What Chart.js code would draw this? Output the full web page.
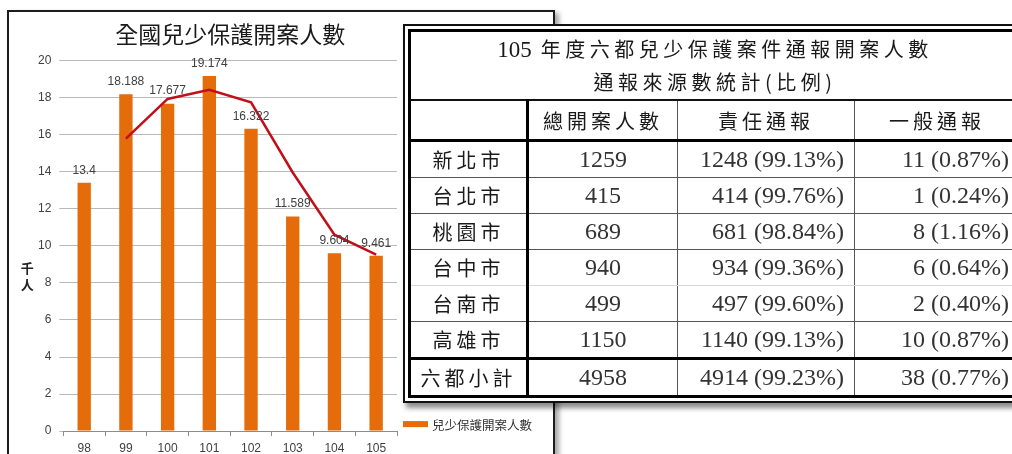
<!DOCTYPE html>
<html lang="zh-Hant">
<head>
<meta charset="utf-8">
<title>全國兒少保護開案人數</title>
<script src="https://cdn.jsdelivr.net/npm/chart.js@4.4.1/dist/chart.umd.min.js"></script>
<style>
  html, body { margin: 0; padding: 0; background: #fff; width: 1012px; height: 454px; overflow: hidden; }
  body { position: relative; }
  #frame { position: absolute; left: 7px; top: 10px; width: 544px; height: 470px; border: 2px solid #1c1c1c; box-shadow: 4px 3px 5px rgba(0,0,0,0.35); background: #fff; }
  #chartWrap { position: absolute; left: 0; top: 0; width: 553px; height: 462px; }
  #tableWrap { position: absolute; left: 403px; top: 24px; width: 614px; border: 2px solid #111; padding: 3px; background: #fff; box-shadow: 3px 5px 5px rgba(0,0,0,0.45); z-index: 2; }
  table { width: 611px; border-collapse: collapse; table-layout: fixed; border: 3px solid #000; color: #1a1a1a; font-family: "Liberation Serif", "Noto Sans CJK TC", serif; }
  td { border: 1px solid #555; padding: 0; height: 35px; text-align: center; font-size: 24px; white-space: nowrap; }
  td.cjk { font-family: "Noto Sans CJK TC", sans-serif; font-size: 20px; letter-spacing: 4px; }
  td.num { color: #333; }
  td.right { text-align: right; padding-right: 10px; }
  tr.title td { height: 67px; border-bottom: 2px solid #111; font-size: 20px; line-height: 32px; letter-spacing: 4.5px; font-family: "Noto Sans CJK TC", sans-serif; }
  tr.title td span.n { font-family: "Liberation Serif", serif; font-size: 23px; letter-spacing: 0; }
  tr.head td { height: 38px; border-bottom: 3px solid #000; }
  td.first { border-right: 3px solid #000; }
  tr.soft td { border-bottom-color: #d8d8d8; }
  tr.sub td { border-top: 3px solid #000; }
</style>
</head>
<body>
<div id="frame"></div>
<div id="chartWrap"><canvas id="chart"></canvas></div>
<div id="tableWrap">
  <table id="table">
    <colgroup><col style="width:118px"><col style="width:150px"><col style="width:177px"><col style="width:166px"></colgroup>
    <tbody id="tbody"></tbody>
  </table>
</div>
<script>
// 圖表資料
const chartTitle = '全國兒少保護開案人數';
const yTitle = '千人';
const years = ['98', '99', '100', '101', '102', '103', '104', '105'];
const cases = [13.4, 18.188, 17.677, 19.174, 16.322, 11.589, 9.604, 9.461];
const movingAvg = [null, 15.79, 17.93, 18.43, 17.75, 13.96, 10.60, 9.53];
const yMin = 0, yMax = 20, yStep = 2;

// 表格資料
const tableTitle = ['105', '年度六都兒少保護案件通報開案人數', '通報來源數統計(比例)'];
const headers = ['', '總開案人數', '責任通報', '一般通報'];
const cities = ['新北市', '台北市', '桃園市', '台中市', '台南市', '高雄市'];
const totalCases = [1259, 415, 689, 940, 499, 1150];
const dutyCases = [1248, 414, 681, 934, 497, 1140];
const dutyShare = ['99.13%', '99.76%', '98.84%', '99.36%', '99.60%', '99.13%'];
const generalCases = [11, 1, 8, 6, 2, 10];
const generalShare = ['0.87%', '0.24%', '1.16%', '0.64%', '0.40%', '0.87%'];
const subtotal = ['六都小計', 4958, 4914, '99.23%', 38, '0.77%'];

const tickFont = '"Liberation Sans", Arial, sans-serif';
const cjkFont = '"Noto Sans CJK TC", sans-serif';

// 表格
let rows = '';
rows += `<tr class="title"><td colspan="4"><span class="n">${tableTitle[0]}</span> ${tableTitle[1]}<br>${tableTitle[2]}</td></tr>`;
rows += `<tr class="head"><td class="first"></td><td class="cjk">${headers[1]}</td><td class="cjk">${headers[2]}</td><td class="cjk">${headers[3]}</td></tr>`;
cities.forEach((c, i) => {
    rows += `<tr${i === 3 ? ' class="soft"' : ''}>
        <td class="cjk first">${c}</td>
        <td class="num">${totalCases[i]}</td>
        <td class="num right">${dutyCases[i]} (${dutyShare[i]})</td>
        <td class="num right">${generalCases[i]} (${generalShare[i]})</td>
    </tr>`;
});
rows += `<tr class="sub">
    <td class="cjk first">${subtotal[0]}</td>
    <td class="num">${subtotal[1]}</td>
    <td class="num right">${subtotal[2]} (${subtotal[3]})</td>
    <td class="num right">${subtotal[4]} (${subtotal[5]})</td>
</tr>`;
document.getElementById('tbody').innerHTML = rows;

// 數值標籤、直立座標軸標題、圖例
const extras = {
    id: 'extras',
    afterDatasetsDraw(chart) {
        const ctx = chart.ctx;
        const area = chart.chartArea;
        const meta = chart.getDatasetMeta(1);
        ctx.save();
        ctx.font = '12px ' + tickFont;
        ctx.fillStyle = '#404040';
        ctx.textAlign = 'center';
        ctx.textBaseline = 'middle';
        meta.data.forEach((bar, i) => {
            ctx.fillText(String(cases[i]), bar.x, bar.y - 12.5);
        });

        ctx.font = 'bold 13px ' + cjkFont;
        ctx.fillStyle = '#222';
        const tx = area.left - 36;
        const ty = area.top + (area.bottom - area.top) * 0.56;
        yTitle.split('').forEach((ch, k) => ctx.fillText(ch, tx, ty + k * 17));

        const ds = chart.data.datasets[1];
        const lx = area.right + 6, ly = area.bottom - 7;
        ctx.fillStyle = ds.backgroundColor;
        ctx.fillRect(lx, ly - 3, 25, 6);
        ctx.fillStyle = '#333';
        ctx.textAlign = 'left';
        ctx.font = '12.5px ' + cjkFont;
        ctx.fillText(ds.label, lx + 29, ly + 1);
        ctx.restore();
    }
};

new Chart(document.getElementById('chart'), {
    type: 'bar',
    data: {
        labels: years,
        datasets: [
            {
                type: 'line',
                label: '移動平均',
                data: movingAvg,
                borderColor: '#c0101a',
                borderWidth: 2.5,
                pointRadius: 0,
                fill: false,
                tension: 0,
                order: 0
            },
            {
                label: '兒少保護開案人數',
                data: cases,
                backgroundColor: '#e46c0a',
                barPercentage: 0.32,
                categoryPercentage: 1,
                order: 1
            }
        ]
    },
    options: {
        responsive: true,
        maintainAspectRatio: false,
        animation: false,
        devicePixelRatio: 1,
        layout: { padding: { left: 30, right: 156, top: 0, bottom: 1.5 } },
        scales: {
            x: {
                offset: true,
                grid: { display: true, drawOnChartArea: false, drawTicks: true, tickLength: 5, color: '#8c8c8c', offset: true },
                border: { display: true, color: '#8c8c8c' },
                ticks: { font: { family: tickFont, size: 12 }, color: '#404040', padding: 5 }
            },
            y: {
                min: yMin,
                max: yMax,
                ticks: { stepSize: yStep, font: { family: tickFont, size: 12 }, color: '#404040', padding: 8 },
                grid: { color: '#b9b9b9', tickLength: 4, drawTicks: true },
                border: { display: false }
            }
        },
        plugins: {
            legend: { display: false },
            tooltip: { enabled: false },
            title: {
                display: true,
                text: chartTitle,
                fullSize: false,
                color: '#1a1a1a',
                font: { family: cjkFont, size: 23, weight: 'normal' },
                padding: { top: 20, bottom: 13 }
            }
        }
    },
    plugins: [extras]
});
</script>
</body>
</html>
